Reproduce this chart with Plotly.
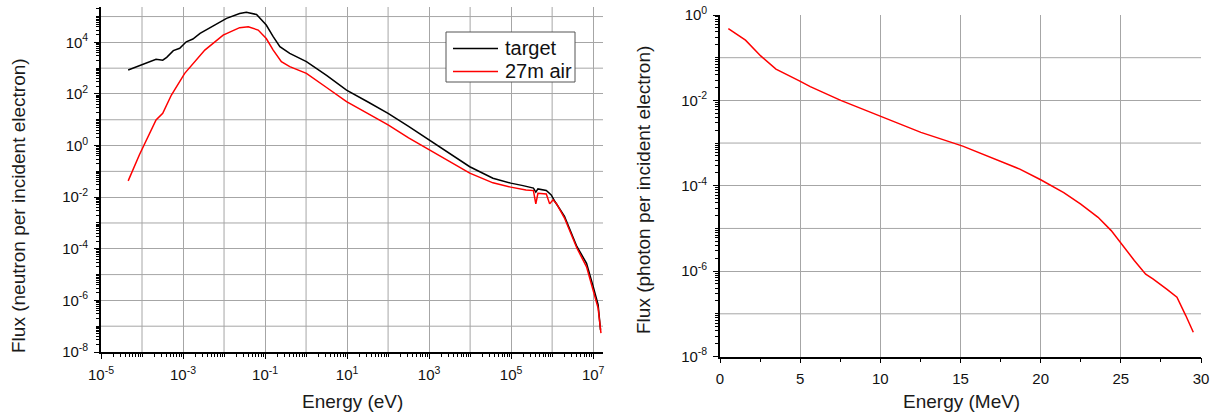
import plotly.graph_objects as go

# ---------------- data ----------------
# Left panel: neutron flux vs energy (eV)
E_target = [4.6e-5, 8.7e-5, 2.2e-4, 3.2e-4, 4.0e-4, 5.8e-4, 8.3e-4, 1.2e-3, 1.74e-3, 2.6e-3,
            5.4e-3, 1.15e-2, 2.4e-2, 3.5e-2, 6.2e-2, 0.107, 0.158, 0.23, 0.40, 1.02,
            3.16, 9.7, 31.6, 100, 316, 1000, 3160, 9800, 3.6e4, 9.8e4,
            1.95e5, 3.5e5, 4.0e5, 4.5e5, 7.2e5, 9.5e5, 1.17e6, 2.0e6, 4.0e6, 6.9e6,
            1.0e7, 1.32e7, 1.51e7]
F_target = [850, 1230, 2190, 2040, 2630, 4790, 5890, 1.05e4, 1.35e4, 2.24e4,
            4.27e4, 8.5e4, 1.32e5, 1.48e5, 1.20e5, 4.68e4, 1.66e4, 6760, 3720, 1780,
            525, 141, 50, 17.8, 5.5, 1.66, 0.50, 0.151, 0.054, 0.035,
            0.028, 0.0224, 0.0158, 0.0209, 0.0182, 0.0123, 0.0068, 1.8e-3, 1.23e-4, 2.75e-5,
            3.5e-6, 6.8e-7, 7.2e-8]

E_air = [4.6e-5, 8.7e-5, 2.2e-4, 3.2e-4, 5.2e-4, 1.1e-3, 3.4e-3, 9.5e-3, 2.4e-2, 3.9e-2,
         6.8e-2, 0.107, 0.158, 0.25, 0.40, 1.02, 3.16, 9.7, 31.6, 100,
         316, 1000, 3160, 9800, 3.6e4, 9.8e4, 2.3e5, 3.5e5, 4.0e5, 4.5e5,
         7.2e5, 8.7e5, 1.05e6, 1.29e6, 2.0e6, 4.0e6, 6.9e6, 1.0e7, 1.32e7, 1.55e7]
F_air = [0.043, 0.45, 9.8, 17.8, 91, 630, 5000, 1.9e4, 3.7e4, 4.0e4,
         3.0e4, 1.41e4, 5000, 1780, 1150, 630, 178, 50, 17.8, 6.3,
         2.0, 0.68, 0.24, 0.085, 0.036, 0.0245, 0.019, 0.018, 0.0055, 0.0141,
         0.0132, 0.0055, 0.0079, 0.0055, 1.55e-3, 1.07e-4, 2.0e-5, 2.6e-6, 5.0e-7, 5.4e-8]

# Right panel: photon flux vs energy (MeV)
E_photon = [0.52, 1.59, 2.54, 3.49, 4.92, 5.63, 7.53, 9.91, 12.53, 15.14,
            17.5, 18.7, 20.0, 21.44, 22.5, 23.58, 24.4, 25.1, 25.84, 26.55,
            27.0, 27.86, 28.5, 29.05, 29.52]
F_photon = [0.48, 0.257, 0.110, 0.054, 0.029, 0.021, 0.010, 4.4e-3, 1.78e-3, 8.5e-4,
            3.8e-4, 2.45e-4, 1.38e-4, 6.9e-5, 3.7e-5, 1.82e-5, 8.9e-6, 4.0e-6, 1.78e-6, 8.5e-7,
            6.6e-7, 3.8e-7, 2.45e-7, 9.1e-8, 3.7e-8]

series_names = ["target", "27m air"]
series_colors = ["#000000", "#ff0000"]
left_x_labeled = [-5, -3, -1, 1, 3, 5, 7]       # exponents with a label
left_x_unlabeled = [-4, -2, 0, 2, 4, 6]         # grid-only decades
left_y_labeled = [-8, -6, -4, -2, 0, 2, 4]
left_y_unlabeled = [-7, -5, -3, -1, 1, 3, 5]
right_y_labeled = [-8, -6, -4, -2, 0]
right_y_unlabeled = [-7, -5, -3, -1]
right_x_ticks = [0, 5, 10, 15, 20, 25, 30]

# ---------------- layout helpers ----------------
W, H = 1218, 418
FONT = "Liberation Sans, Arial, sans-serif"
GRID = "#a6a6a6"


def pw(p):
    return p / W


def ph(p):
    return 1 - p / H


def log_minor(exps, extra_decades):
    vals = [10.0 ** e for e in extra_decades]
    for e in exps:
        for m in range(2, 10):
            vals.append(m * 10.0 ** e)
    return vals


axis_common = dict(
    showline=True, linecolor="black", linewidth=1.6,
    ticks="outside", ticklen=5, tickwidth=1.3, tickcolor="black",
    showgrid=True, gridcolor=GRID, gridwidth=1, zeroline=False,
    tickfont=dict(family=FONT, size=15, color="#111111"),
    automargin=False, ticklabelstandoff=3,
)
minor_common = dict(ticks="outside", ticklen=3, tickwidth=1, tickcolor="black", showgrid=False)

fig = go.Figure()
for name, xs, ys, col in [(series_names[0], E_target, F_target, series_colors[0]),
                          (series_names[1], E_air, F_air, series_colors[1])]:
    fig.add_trace(go.Scatter(x=xs, y=ys, mode="lines", name=name, showlegend=False,
                             line=dict(color=col, width=1.5), xaxis="x", yaxis="y"))
fig.add_trace(go.Scatter(x=E_photon, y=F_photon, mode="lines", showlegend=False,
                         line=dict(color="#ff0000", width=1.5), xaxis="x2", yaxis="y2"))

fig.update_layout(
    width=W, height=H,
    margin=dict(l=0, r=0, t=0, b=0),
    paper_bgcolor="white", plot_bgcolor="white",
    font=dict(family=FONT, color="black"),
    showlegend=False,
    xaxis=dict(axis_common, type="log", domain=[pw(101), pw(603)], range=[-5, 7.24], anchor="y",
               tickmode="array", tickvals=[10.0 ** e for e in left_x_labeled],
               ticktext=["10<sup>%d</sup>" % e for e in left_x_labeled],
               minor=dict(minor_common, tickmode="array",
                          tickvals=log_minor(range(-5, 7), left_x_unlabeled))),
    yaxis=dict(axis_common, type="log", domain=[ph(352), ph(7)], range=[-8, 5.37], anchor="x",
               tickmode="array", tickvals=[10.0 ** e for e in left_y_labeled],
               ticktext=["10<sup>%d</sup>" % e for e in left_y_labeled],
               minor=dict(minor_common, tickmode="array",
                          tickvals=log_minor(range(-8, 6), left_y_unlabeled))),
    xaxis2=dict(axis_common, domain=[pw(720), pw(1201)], range=[0, 30], anchor="y2",
                tickmode="array", tickvals=right_x_ticks, ticktext=[str(v) for v in right_x_ticks],
                minor=dict(minor_common, dtick=2.5, ticklen=4)),
    yaxis2=dict(axis_common, type="log", domain=[ph(356.5), ph(15)], range=[-8, 0], anchor="x2",
                tickmode="array", tickvals=[10.0 ** e for e in right_y_labeled],
                ticktext=["10<sup>%d</sup>" % e for e in right_y_labeled],
                minor=dict(minor_common, tickmode="array",
                           tickvals=log_minor(range(-8, 0), right_y_unlabeled))),
)

# grid lines at the unlabeled decades (placed through the axes' own scales)
grid_line = dict(color=GRID, width=1)
for e in left_x_unlabeled:
    fig.add_shape(type="line", xref="x", yref="y domain", x0=10.0 ** e, x1=10.0 ** e,
                  y0=0, y1=1, line=grid_line, layer="below")
for e in left_y_unlabeled:
    fig.add_shape(type="line", xref="x domain", yref="y", y0=10.0 ** e, y1=10.0 ** e,
                  x0=0, x1=1, line=grid_line, layer="below")
for e in right_y_unlabeled:
    fig.add_shape(type="line", xref="x2 domain", yref="y2", y0=10.0 ** e, y1=10.0 ** e,
                  x0=0, x1=1, line=grid_line, layer="below")

# legend box (drawn in paper coordinates)
fig.add_shape(type="rect", xref="paper", yref="paper",
              x0=pw(446), x1=pw(575), y0=ph(82), y1=ph(32),
              line=dict(color="#555555", width=1), fillcolor="white", layer="above")
for i, (name, col) in enumerate(zip(series_names, series_colors)):
    yy = 48.5 + 23 * i
    fig.add_shape(type="line", xref="paper", yref="paper",
                  x0=pw(453), x1=pw(498), y0=ph(yy), y1=ph(yy),
                  line=dict(color=col, width=1.5), layer="above")
    fig.add_annotation(text=name, x=pw(503), y=ph(yy), xref="paper", yref="paper",
                       showarrow=False, xanchor="left", yanchor="middle",
                       font=dict(family=FONT, size=20, color="#111111"))

title_font = dict(family=FONT, size=19, color="#1a1a1a")
fig.add_annotation(text="Energy (eV)", x=pw(352), y=ph(401), xref="paper", yref="paper",
                   showarrow=False, font=title_font, xanchor="center", yanchor="middle")
fig.add_annotation(text="Energy (MeV)", x=pw(961), y=ph(401), xref="paper", yref="paper",
                   showarrow=False, font=title_font, xanchor="center", yanchor="middle")
fig.add_annotation(text="Flux (neutron per incident electron)", x=pw(18), y=ph(206),
                   xref="paper", yref="paper", showarrow=False, font=title_font, textangle=-90,
                   xanchor="center", yanchor="middle")
fig.add_annotation(text="Flux (photon per incident electron)", x=pw(643), y=ph(190),
                   xref="paper", yref="paper", showarrow=False, font=title_font, textangle=-90,
                   xanchor="center", yanchor="middle")

fig.write_html("out.html", config={"displayModeBar": False},
               post_script="document.body.style.margin='0';")
